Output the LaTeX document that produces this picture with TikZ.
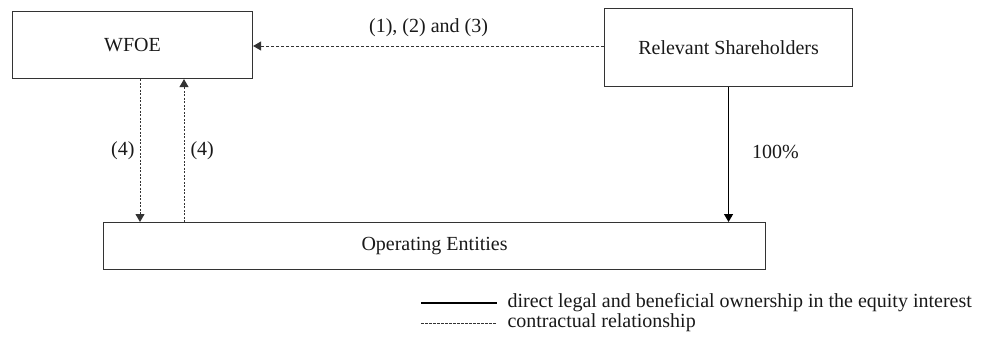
\documentclass[tikz,border=0pt]{standalone}
\usepackage{fontspec}
\setmainfont{Liberation Serif}
\usetikzlibrary{arrows.meta}
\begin{document}
\begin{tikzpicture}[x=1pt,y=-1pt,
  every node/.style={font=\fontsize{20}{23}\selectfont, text=black!90},
  entity/.style={draw=black!80, line width=1.1pt, inner sep=0pt, anchor=north west},
  lbl/.style={inner sep=0pt},
  tip/.style={-{Triangle[length=8pt,width=9pt]}},
  owns/.style={tip, draw=black, line width=1.1pt},
  contract/.style={tip, draw=black!80, line width=1pt, dash pattern=on 3pt off 2pt},
  contractv/.style={tip, draw=black!80, line width=1pt, dash pattern=on 2pt off 1.5pt}]
\useasboundingbox (0,0) rectangle (984,338);
% entities
\node[entity, minimum width=240pt, minimum height=67pt] (wfoe) at (12,11) {};
\node at (wfoe.center) {WFOE};
\node[entity, minimum width=248pt, minimum height=78pt] (rs) at (604,8) {};
\node at (rs.center) {Relevant Shareholders};
\node[entity, minimum width=662pt, minimum height=47pt] (oe) at (103,222) {};
\node at (oe.center) {Operating Entities};
% connectors
\draw[contract] (rs.west |- 0,46) -- (wfoe.east |- 0,46) node[midway, above=9pt, lbl] {(1), (2) and (3)};
\coordinate (wd) at (140,0);
\coordinate (wu) at (184,0);
\draw[contractv] (wfoe.south -| wd) -- (oe.north -| wd) node[pos=0.5, left=5pt, lbl] {(4)};
\draw[contractv] (oe.north -| wu) -- (wfoe.south -| wu) node[pos=0.5, right=6pt, lbl] {(4)};
\draw[owns] (rs.south) -- (oe.north -| rs.south) node[pos=0.48, right=23pt, lbl] {100\%};
% legend
\coordinate (l1a) at (421,303); \coordinate (l1b) at (497,303);
\coordinate (l2a) at (421,323); \coordinate (l2b) at (497,323);
\draw[black, line width=1.1pt] (l1a) -- (l1b) node[right=10pt, lbl] (t1) {direct legal and beneficial ownership in the equity interest};
\draw[black!80, line width=1pt, dash pattern=on 2.5pt off 1.5pt] (l2a) -- (l2b) node[right=10pt, lbl] (t2) {contractual relationship};
\end{tikzpicture}
\end{document}
